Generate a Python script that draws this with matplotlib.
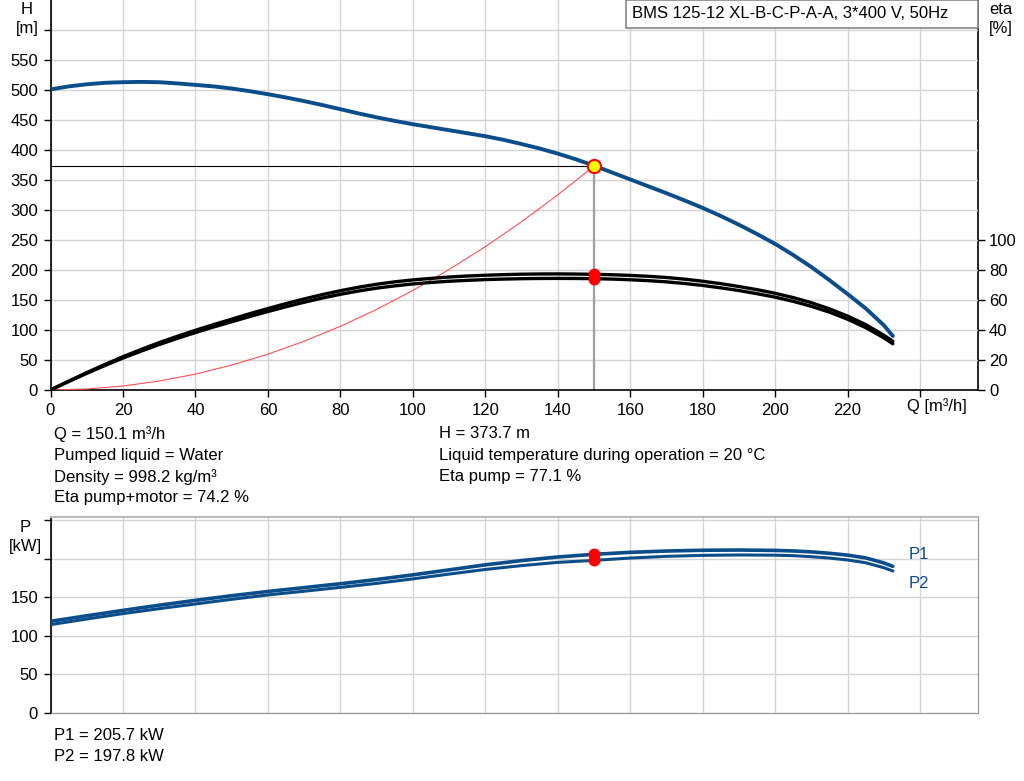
import matplotlib
matplotlib.use("Agg")
import matplotlib.pyplot as plt
from matplotlib.patches import Rectangle

plt.rcParams['font.family'] = ['Liberation Sans', 'DejaVu Sans']

# ---------------- data ----------------
q_h = [0, 5, 10, 15, 20, 25, 30, 35, 40, 45, 50, 55, 60, 65, 70, 75, 80, 85, 90, 95,
       100, 105, 110, 115, 120, 125, 130, 135, 140, 145, 150.1, 155, 160, 165, 170,
       175, 180, 185, 190, 195, 200, 205, 210, 215, 220, 225, 230, 232.5]
h_vals = [501, 506, 509.5, 512, 513, 513.5, 513, 511, 508.5, 506, 502.5, 498, 493,
          487.5, 481.5, 475, 468, 461, 454.5, 448.5, 443, 438, 433, 428, 423, 417,
          410, 402.5, 394, 384.5, 373.7, 362.5, 351, 339.5, 328, 316, 303.5, 290,
          275.5, 260, 243.5, 225, 205, 183, 160, 136, 108, 90]

q_eta = [0, 5, 10, 15, 20, 25, 30, 35, 40, 45, 50, 55, 60, 65, 70, 75, 80, 85, 90,
         95, 100, 105, 110, 115, 120, 125, 130, 135, 140, 145, 150.1, 155, 160, 165,
         170, 175, 180, 185, 190, 195, 200, 205, 210, 215, 220, 225, 230, 232.5]
eta_pump = [0, 5.9, 11.6, 17, 22.2, 27, 31.6, 35.8, 39.8, 43.6, 47.2, 50.9, 54.3,
            57.6, 60.7, 63.6, 66.2, 68.5, 70.5, 72.1, 73.4, 74.4, 75.3, 76, 76.5,
            76.9, 77.2, 77.35, 77.4, 77.3, 77.1, 76.85, 76.4, 75.8, 75, 73.9, 72.5,
            70.9, 69, 66.9, 64.5, 61.6, 58.2, 54.1, 49.3, 43.6, 36.5, 32.5]
eta_total = [0, 5.6, 11.1, 16.3, 21.3, 25.9, 30.3, 34.4, 38.3, 42, 45.5, 49, 52.3,
             55.5, 58.5, 61.3, 63.8, 66, 67.9, 69.4, 70.7, 71.7, 72.5, 73.1, 73.6,
             73.95, 74.2, 74.35, 74.4, 74.35, 74.2, 73.95, 73.5, 72.9, 72.1, 71,
             69.7, 68.1, 66.3, 64.2, 61.9, 59.1, 55.8, 51.9, 47.2, 41.6, 34.8, 30.8]

q_sys = [0, 10, 20, 30, 40, 50, 60, 70, 80, 90, 100, 110, 120, 130, 140, 150.1]
h_sys = [0, 1.7, 6.6, 14.9, 26.5, 41.5, 59.7, 81.3, 106.1, 134.3, 165.9, 200.7,
         238.8, 280.3, 325.1, 373.7]

q_p = [0, 10, 20, 30, 40, 50, 60, 70, 80, 90, 100, 110, 120, 130, 140, 150.1, 160,
       170, 180, 190, 200, 205, 210, 215, 220, 225, 230, 232.5]
p1_vals = [118.8, 126, 133, 139.7, 146, 152, 157.5, 162.5, 167.5, 173, 179, 185.5,
           192, 197.5, 202.2, 205.7, 208.2, 209.9, 210.9, 211.2, 210.7, 210, 208.8,
           207, 204.6, 201, 194.5, 190]
p2_vals = [114.5, 121.8, 128.8, 135.2, 141.3, 147.3, 153, 157.8, 162.8, 168, 173.8,
           180, 186, 191, 195.2, 197.8, 200.8, 203, 204.3, 204.8, 204.5, 203.9,
           202.5, 200.8, 198.3, 194.7, 188.3, 184]

q_op = 150.1
h_op = 373.7
eta_pump_op = 77.1
eta_total_op = 74.2
p1_op = 205.7
p2_op = 197.8

x_ticks = [0, 20, 40, 60, 80, 100, 120, 140, 160, 180, 200, 220]
h_ticks = [0, 50, 100, 150, 200, 250, 300, 350, 400, 450, 500, 550]
eta_ticks = [0, 20, 40, 60, 80, 100]
p_ticks = [0, 50, 100, 150]

title_text = "BMS 125-12 XL-B-C-P-A-A, 3*400 V, 50Hz"
info_left = ["Q = 150.1 m³/h", "Pumped liquid = Water", "Density = 998.2 kg/m³",
             "Eta pump+motor = 74.2 %"]
info_right = ["H = 373.7 m", "Liquid temperature during operation = 20 °C",
              "Eta pump = 77.1 %"]
info_power = ["P1 = 205.7 kW", "P2 = 197.8 kW"]

# ---------------- figure ----------------
W, H = 1024, 781
fig = plt.figure(figsize=(W / 100, H / 100), dpi=100)

def fx(px):
    return px / W

def fy(py):
    return 1 - py / H

BLUE = '#0b4d8a'
GRID = '#d4d4d4'
FS = 12

ax = fig.add_axes([fx(50.5), fy(390), fx(978) - fx(50.5), fy(0) - fy(390)])
ax2 = ax.twinx()

ax.set_xlim(0, 256)
ax.set_ylim(0, 650)
ax.set_xticks(x_ticks + [240])
ax.set_xticklabels([str(t) for t in x_ticks] + [''])
ax.set_yticks(h_ticks + [600])
ax.set_yticklabels([str(t) for t in h_ticks] + [''])
ax.grid(True, color=GRID, lw=1)
ax.set_axisbelow(True)
ax.spines['top'].set_visible(False)
ax.spines['right'].set_visible(False)
ax.spines['left'].set_linewidth(1.2)
ax.spines['bottom'].set_linewidth(1.2)
ax.tick_params(axis='both', direction='out', length=5, width=1, labelsize=FS, pad=4)

ax2.set_ylim(0, 260)
ax2.set_yticks(eta_ticks)
ax2.spines['top'].set_visible(False)
ax2.spines['left'].set_visible(False)
ax2.spines['bottom'].set_visible(False)
ax2.spines['right'].set_linewidth(1.2)
ax2.tick_params(axis='y', direction='out', length=5, width=1, labelsize=FS, pad=3)

ax2.set_zorder(1)
ax.set_zorder(2)
ax.patch.set_visible(False)

# system curve & guides
ax.plot(q_sys, h_sys, color='#ff5050', lw=0.8, zorder=3)
ax.plot([0, q_op], [h_op, h_op], color='black', lw=0.8, zorder=3)
ax.plot([q_op, q_op], [0, h_op], color='#a0a0a0', lw=1.6, zorder=2)

# eta curves (drawn through the eta axis scale)
to_h = ax2.transData + ax.transData.inverted()
ax2_to_ax = lambda qs, vs: to_h.transform(list(zip(qs, vs)))
pts_pump = ax2_to_ax(q_eta, eta_pump)
pts_total = ax2_to_ax(q_eta, eta_total)
ax.plot(pts_pump[:, 0], pts_pump[:, 1], color='black', lw=2.4, zorder=4,
        solid_capstyle='round')
ax.plot(pts_total[:, 0], pts_total[:, 1], color='black', lw=2.4, zorder=4,
        solid_capstyle='round')
pts_op = ax2_to_ax([q_op, q_op], [eta_pump_op, eta_total_op])
ax.plot(pts_op[:, 0], pts_op[:, 1], 'o', color='red', ms=8.6, mec='none', zorder=6)

# H curve
ax.plot(q_h, h_vals, color=BLUE, lw=2.8, zorder=5, solid_capstyle='round')
ax.plot([q_op], [h_op], 'o', ms=9.5, mfc='#ffff00', mec='red', mew=1.5, zorder=7)

ax.text(244.6, -14, "Q [m³/h]", ha='center', va='top', fontsize=FS)

fig.text(fx(27), fy(9), "H", ha='center', va='center', fontsize=FS)
fig.text(fx(27), fy(29), "[m]", ha='center', va='center', fontsize=FS)
fig.text(fx(1001), fy(9), "eta", ha='center', va='center', fontsize=FS)
fig.text(fx(1001), fy(29), "[%]", ha='center', va='center', fontsize=FS)

# title box
fig.patches.append(Rectangle((fx(626), fy(28)), fx(978) - fx(626), fy(0) - fy(28),
                             transform=fig.transFigure, facecolor='white',
                             edgecolor='#888888', lw=1.2, zorder=10))
fig.text(fx(632), fy(14), title_text, ha='left', va='center', fontsize=FS, zorder=11)

# info text
for i, t in enumerate(info_left):
    fig.text(fx(54), fy(434 + 21.3 * i), t, ha='left', va='center', fontsize=FS)
for i, t in enumerate(info_right):
    fig.text(fx(439), fy(434 + 21.3 * i), t, ha='left', va='center', fontsize=FS)
for i, t in enumerate(info_power):
    fig.text(fx(54), fy(735 + 21.3 * i), t, ha='left', va='center', fontsize=FS)

# ---------------- power axes ----------------
axp = fig.add_axes([fx(50.5), fy(713), fx(978) - fx(50.5), fy(517) - fy(713)])
axp.set_xlim(0, 256)
axp.set_ylim(0, 254)
axp.set_xticks(x_ticks + [240])
axp.set_xticklabels([])
axp.set_yticks(p_ticks + [200, 250])
axp.set_yticklabels([str(t) for t in p_ticks] + ['', ''])
axp.grid(True, color=GRID, lw=1)
axp.set_axisbelow(True)
axp.tick_params(axis='x', length=0)
axp.tick_params(axis='y', direction='out', length=5, width=1, labelsize=FS, pad=4)
axp.spines['left'].set_linewidth(1.2)
axp.spines['left'].set_color('black')
axp.spines['right'].set_color('#909090')
axp.spines['bottom'].set_color('#909090')
axp.spines['top'].set_color('#b8b8b8')
axp.spines['top'].set_linewidth(1.5)

axp.plot(q_p, p1_vals, color=BLUE, lw=2.6, zorder=4, solid_capstyle='round')
axp.plot(q_p, p2_vals, color=BLUE, lw=2.2, zorder=4, solid_capstyle='round')
axp.plot([q_op, q_op], [p1_op, p2_op], 'o', color='red', ms=8.6, mec='none', zorder=6)
axp.text(236.8, 205, "P1", color=BLUE, fontsize=FS, ha='left', va='center')
axp.text(236.8, 168, "P2", color=BLUE, fontsize=FS, ha='left', va='center')

fig.text(fx(25), fy(527), "P", ha='center', va='center', fontsize=FS)
fig.text(fx(25), fy(547), "[kW]", ha='center', va='center', fontsize=FS)

fig.savefig("out.png", dpi=100)
